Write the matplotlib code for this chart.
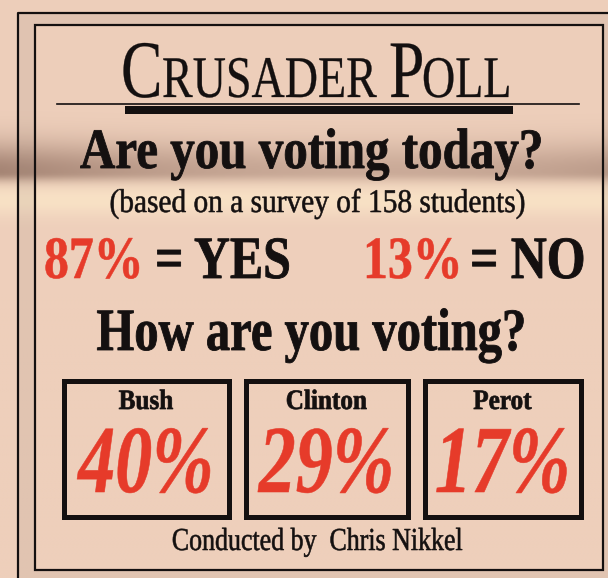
import numpy as np
import matplotlib
matplotlib.use("Agg")
import matplotlib.pyplot as plt
from matplotlib.patches import Rectangle
from matplotlib.patheffects import AbstractPathEffect
from matplotlib.transforms import Affine2D

# poll data
sample_size = 158
turnout_labels = ["YES", "NO"]
turnout_pct = [87, 13]
candidates = ["Bush", "Clinton", "Perot"]
candidate_pct = [40, 29, 17]
pollster = "Chris Nikkel"

RED = "#e63b2a"
INK = "#141010"
SERIF = "Liberation Serif"


class Tall(AbstractPathEffect):
    """Stretch glyphs upward from the baseline (condensed newspaper type),
    with a thin stroke for the ink spread of newsprint."""

    def __init__(self, sy, spread=0.0):
        super().__init__()
        self.sy = sy
        self.spread = spread

    def draw_path(self, renderer, gc, tpath, affine, rgbFace=None):
        trans = Affine2D().scale(1, self.sy) + affine
        gc0 = renderer.new_gc()
        gc0.copy_properties(gc)
        if self.spread > 0:
            gc0.set_linewidth(self.spread)
            gc0.set_foreground(rgbFace)
            gc0.set_joinstyle("round")
        renderer.draw_path(gc0, tpath, trans, rgbFace)
        gc0.restore()


def txt(ax, x, y, s, em, sx=1.0, ha="center", color=INK, weight="normal",
        style="normal", spread=0.4):
    # em is the visual em height in pixels, sx the horizontal condensing
    ax.text(x, y, s, ha=ha, va="baseline", fontsize=em * sx * 0.72, family=SERIF,
            color=color, weight=weight, style=style,
            path_effects=[Tall(1 / sx, spread)])


fig = plt.figure(figsize=(6.08, 5.78), dpi=100)
ax = fig.add_axes([0, 0, 1, 1])
ax.set_xlim(0, 608)
ax.set_ylim(578, 0)
ax.axis("off")

# paper background with the fold shadow and the bright strip under it
H, W = 290, 152
yy = np.linspace(0, 578, H)[:, None]
xx = np.linspace(0, 608, W)[None, :]
base = np.array([238, 207, 187], float)
sig = np.where(yy < 172, 30.0, 9.0)
across = 0.5 + 0.5 * ((xx - 380) / 380) ** 2
shade = np.exp(-((yy - 172) / sig) ** 2) * across
light = np.exp(-((yy - 200) / 16) ** 2) * np.ones_like(xx)
img = np.ones((H, W, 3)) * base
img -= shade[..., None] * np.array([72, 74, 70])
img += light[..., None] * np.array([10, 18, 10])
ax.imshow(np.clip(img, 0, 255) / 255, extent=(0, 608, 578, 0), aspect="auto",
          interpolation="bilinear", zorder=0)

# double frame with the screened band between the rules
band = dict(facecolor="#8a7a70", alpha=0.12, edgecolor="none", zorder=1)
ax.add_patch(Rectangle((18, 13), 17, 565, **band))
ax.add_patch(Rectangle((35, 13), 573, 12, **band))
ax.add_patch(Rectangle((603, 25), 5, 553, **band))
ax.add_patch(Rectangle((35, 570), 568, 8, **band))
ax.plot([18, 18, 608], [578, 13, 13], color=INK, lw=1.6, zorder=2)
ax.add_patch(Rectangle((35, 25), 568, 545, fill=False, edgecolor=INK, lw=1.6, zorder=2))

# masthead in small caps
txt(ax, 121, 97, "C", 81.6, 0.76, ha="left", spread=0.2)
txt(ax, 162, 97, "RUSADER", 59, 0.78, ha="left", spread=0.2)
txt(ax, 389, 97, "P", 81.6, 0.78, ha="left", spread=0.2)
txt(ax, 422, 97, "OLL", 59, 0.78, ha="left", spread=0.2)
ax.plot([57, 579], [104, 104], color=INK, lw=1.2, zorder=2)
ax.add_patch(Rectangle((125, 106), 388, 8, facecolor=INK, edgecolor="none", zorder=2))

# turnout question
txt(ax, 311.5, 168, "Are you voting today?", 57, 0.86, weight="bold", spread=0.6)
txt(ax, 317.5, 212, f"(based on a survey of {sample_size} students)", 33, 0.89)

lefts = [(44, 155), (363, 470)]
for (xl, xr), lab, pct in zip(lefts, turnout_labels, turnout_pct):
    txt(ax, xl, 278, f"{pct}%", 60, 0.83, ha="left", color=RED, weight="bold")
    txt(ax, xr, 278, f"= {lab}", 60, 0.83, ha="left", weight="bold", spread=0.6)

# candidate boxes
txt(ax, 311.5, 350, "How are you voting?", 60, 0.81, weight="bold", spread=0.6)
box_x = [61, 243, 422]
box_w = [170, 167, 161]
for x0, w, name, pct in zip(box_x, box_w, candidates, candidate_pct):
    ax.add_patch(Rectangle((x0 + 2.5, 380.5), w - 5, 136, fill=False,
                           edgecolor=INK, lw=3.6, zorder=3))
    cx = x0 + w / 2
    txt(ax, cx, 409, name, 28, 0.9, weight="bold", spread=0.5)
    txt(ax, cx, 492, f"{pct}%", 96, 0.77, color=RED, weight="bold", style="italic")

txt(ax, 317, 550, f"Conducted by  {pollster}", 32, 0.81)

fig.savefig("out.png", dpi=100)
